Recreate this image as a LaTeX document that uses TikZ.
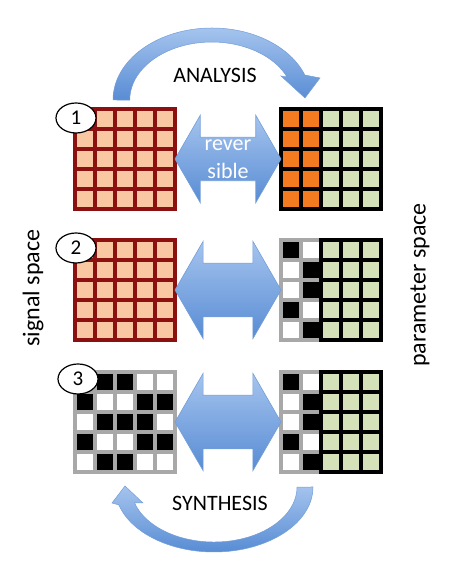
\documentclass[tikz,border=0pt]{standalone}
\usepackage{fontspec}
\setmainfont{Carlito}
\usepackage{tikz}
\usetikzlibrary{positioning,shapes.arrows,shapes.geometric}

\definecolor{peach}{RGB}{249,200,163}
\definecolor{darkred}{RGB}{140,16,16}
\definecolor{pumpkin}{RGB}{244,123,32}
\definecolor{sage}{RGB}{213,226,185}
\definecolor{cellgray}{RGB}{168,168,168}
\definecolor{skytop}{RGB}{165,196,238}
\definecolor{skybot}{RGB}{88,140,212}
\definecolor{skyline}{RGB}{115,158,216}

\begin{document}
\begin{tikzpicture}[x=1pt, y=1pt,
  gridbox/.style={minimum size=100pt, inner sep=0pt, outer sep=0pt},
  redgrid/.style={draw=darkred, line width=3.2pt, line cap=rect, step=20pt},
  blackgrid/.style={draw=black, line width=3.2pt, line cap=rect, step=20pt},
  graygrid/.style={draw=cellgray, line width=3.2pt, line cap=rect, step=20pt},
  revarrow/.style={double arrow, double arrow head extend=22pt, double arrow tip angle=120,
    minimum height=106pt, inner xsep=0pt, inner ysep=26.5pt, outer sep=0pt,
    top color=skytop, bottom color=skybot, draw=skyline, line width=0.6pt,
    text=white, align=center, font=\fontsize{22}{28}\selectfont},
  badge/.style={draw, ellipse, fill=white, line width=1.2pt, minimum width=40pt,
    minimum height=30pt, inner sep=0pt, font=\fontsize{21}{21}\selectfont},
  curvearrow/.style={top color=skytop, bottom color=skybot, draw=skyline, line width=0.5pt},
  caption/.style={font=\fontsize{22}{22}\selectfont},
  sidetext/.style={rotate=90, font=\fontsize{24}{24}\selectfont}]

\useasboundingbox (0,0) rectangle (453,575);

% Grid frames
\node[gridbox] (s1) at (125,416) {};
\node[gridbox, below=31pt of s1] (s2) {};
\node[gridbox, below=32pt of s2] (s3) {};
\node[gridbox, right=106pt of s1] (p1) {};
\node[gridbox, right=106pt of s2] (p2) {};
\node[gridbox, right=106pt of s3] (p3) {};

% Signal space grids
\foreach \g in {s1,s2}{
  \begin{scope}[shift={(\g.south west)}]
    \fill[peach] (0,0) rectangle (100,100);
    \draw[redgrid] (0,0) grid (100,100);
  \end{scope}
}
\begin{scope}[shift={(s3.south west)}]
  \fill[white] (0,0) rectangle (100,100);
  \foreach \c/\r in {2/1,3/1,1/2,4/2,5/2,2/3,3/3,4/3,1/4,4/4,5/4,2/5,3/5}
    \fill[black] (\c*20-20,100-\r*20) rectangle ++(20,20);
  \draw[graygrid] (0,0) grid (100,100);
\end{scope}

% Parameter space grids
\begin{scope}[shift={(p1.south west)}]
  \fill[pumpkin] (0,0) rectangle (40,100);
  \fill[sage] (40,0) rectangle (100,100);
  \draw[blackgrid] (0,0) grid (100,100);
\end{scope}
\foreach \g in {p2,p3}{
  \begin{scope}[shift={(\g.south west)}]
    \fill[white] (0,0) rectangle (40,100);
    \foreach \c/\r in {1/1,2/2,2/3,1/4,2/5}
      \fill[black] (\c*20-20,100-\r*20) rectangle ++(20,20);
    \draw[graygrid] (0,0) grid (40,100);
    \fill[sage] (40,0) rectangle (100,100);
    \draw[blackgrid] (40,0) grid (100,100);
  \end{scope}
}

% Double arrows
\node[revarrow, inner ysep=2pt, right=0pt of s1] (a1) {rever\\sible};
\node[revarrow, right=0pt of s2] (a2) {};
\node[revarrow, right=0pt of s3] (a3) {};

% Numbers
\node[badge] (n1) at ([shift={(1,-9)}]s1.north west) {1};
\node[badge] (n2) at ([shift={(1,-8)}]s2.north west) {2};
\node[badge] (n3) at ([shift={(3,-7)}]s3.north west) {3};

% Curved arrows
\path[curvearrow] (113,475) arc[start angle=180, end angle=20.3, x radius=99, y radius=72]
  -- (320,497) -- (305,477) -- (281,499) -- (287,498)
  arc[start angle=23.4, end angle=180, x radius=82, y radius=58] -- cycle;
\path[curvearrow] (313,88) arc[start angle=360, end angle=196, x radius=99, y radius=65]
  -- (112,72) -- (125,89) -- (143,72) -- (134.6,72)
  arc[start angle=196.9, end angle=360, x radius=83, y radius=55] -- cycle;

% Labels
\node[caption] (ana) at (215,500) {ANALYSIS};
\node[caption] (syn) at (220,72) {SYNTHESIS};
\node[sidetext] (sig) at (33,287) {signal space};
\node[sidetext] (par) at (420,290) {parameter space};

\end{tikzpicture}
\end{document}
